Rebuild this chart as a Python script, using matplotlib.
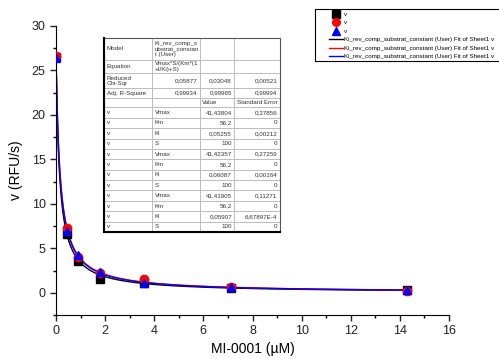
import numpy as np
import matplotlib
matplotlib.use("Agg")
import matplotlib.pyplot as plt
from matplotlib.lines import Line2D
from matplotlib.patches import Rectangle

plt.rcParams['font.family'] = ['Liberation Sans', 'DejaVu Sans']

# ---- data ----
conc = [0.0, 0.45, 0.89, 1.79, 3.57, 7.14, 14.29]
v_black = [26.5, 6.6, 3.6, 1.6, 1.1, 0.55, 0.3]
v_red = [26.6, 7.3, 4.0, 2.2, 1.5, 0.62, 0.25]
v_blue = [26.4, 6.9, 4.25, 2.3, 1.15, 0.6, 0.35]

# fitted parameters (from the table)
vmax = [41.43804, 41.42357, 41.41905]
vmax_se = [0.37856, 0.27259, 0.11271]
km = [56.2, 56.2, 56.2]
ki = [0.05255, 0.06087, 0.05907]
ki_se = ["0,00212", "0,00164", "6,67897E-4"]
s_const = [100, 100, 100]
red_chi = ["0,05877", "0,03048", "0,00521"]
adj_r2 = ["0,99934", "0,99965", "0,99994"]

colors = ['black', 'red', 'blue']
markers = ['s', 'o', '^']
legend_fit = "Ki_rev_comp_substrat_constant (User) Fit of Sheet1 v"

W, H = 499, 359
fig = plt.figure(figsize=(W/100, H/100), dpi=100)
ax = fig.add_axes([56/W, 1-315/H, (449-56)/W, (315-26)/H])

xx = np.linspace(0, max(conc), 400)
for i, c in enumerate(colors):
    yy = vmax[i]*s_const[i]/(km[i]*(1+xx/ki[i])+s_const[i])
    ax.plot(xx, yy, color=c, lw=1.0, zorder=2)

for ys, c, m in zip([v_black, v_red, v_blue], colors, markers):
    ax.plot(conc, ys, linestyle='none', marker=m, color=c, markersize=6, zorder=3)

ax.set_xlim(0, 16)
ax.set_ylim(-2.5, 30)
ax.set_xticks(np.arange(0, 17, 2))
ax.set_xticks(np.arange(0, 17, 1), minor=True)
ax.set_yticks(np.arange(0, 31, 5))
ax.set_yticks(np.arange(-2.5, 30.1, 2.5), minor=True)
ax.spines['top'].set_visible(False)
ax.spines['right'].set_visible(False)
ax.tick_params(which='major', direction='out', length=4, width=1, labelsize=9, colors='#222222')
ax.tick_params(which='minor', direction='out', length=2.5, width=1)
ax.set_xlabel("MI-0001 (µM)", fontsize=10, labelpad=3)
ax.set_ylabel("v (RFU/s)", fontsize=10, labelpad=6)

# ---- table ----
rows = [
    ["Model", "Ki_rev_comp_s\nubstrat_constan\nt (User)", "", ""],
    ["Equation", "Vmax*S/(Km*(1\n+I/Ki)+S)", "", ""],
    ["Reduced\nChi-Sqr"] + red_chi,
    ["Adj. R-Square"] + adj_r2,
    ["", "", "Value", "Standard Error"],
]
for i in range(3):
    rows.append(["v", "Vmax", f"{vmax[i]:.5f}".replace('.', ','), f"{vmax_se[i]:.5f}".replace('.', ',')])
    rows.append(["v", "Km", f"{km[i]:g}".replace('.', ','), "0"])
    rows.append(["v", "Ki", f"{ki[i]:.5f}".replace('.', ','), ki_se[i]])
    rows.append(["v", "S", f"{s_const[i]}", "0"])

heights = [22, 13.5, 15, 9.5, 9.5] + [10.4]*12
colw = [48, 48, 34, 46]
x0, x1, y0, y1 = 104, 280, 38, 232
bbox_ax = ax.transAxes.inverted().transform(
    fig.transFigure.transform([[x0/W, 1-y1/H], [x1/W, 1-y0/H]]))
tb = ax.table(cellText=rows, bbox=[bbox_ax[0,0], bbox_ax[0,1],
              bbox_ax[1,0]-bbox_ax[0,0], bbox_ax[1,1]-bbox_ax[0,1]], zorder=5)
tb.auto_set_font_size(False)
tb.set_fontsize(4.5)
for (r, c), cell in tb.get_celld().items():
    cell.set_height(heights[r])
    cell.set_width(colw[c])
    cell.set_edgecolor('#b8b8b8')
    cell.set_linewidth(0.6)
    cell.set_facecolor('white')
    cell.PAD = 0.06
    txt = cell.get_text()
    txt.set_color('#333333')
    txt.set_linespacing(1.15)
    if (c >= 2 and r != 4) or (c == 1 and r in (2, 3)):
        cell._loc = 'right'
        txt.set_ha('right')
    else:
        cell._loc = 'left'
        txt.set_ha('left')
# outer frame
trans = fig.transFigure
fig.add_artist(Rectangle((x0/W, 1-y1/H), (x1-x0)/W, (y1-y0)/H, fill=False,
                         ec='#555555', lw=0.8, transform=trans, zorder=6))
fig.add_artist(Line2D([x0/W, x0/W], [1-y0/H, 1-y1/H], color='black', lw=1.5, transform=trans, zorder=7))
fig.add_artist(Line2D([x0/W, x1/W], [1-y1/H, 1-y1/H], color='black', lw=1.5, transform=trans, zorder=7))

# ---- legend ----
fig.add_artist(Rectangle((315/W, 1-61/H), 200/W, 52/H, fill=False, ec='black', lw=0.8,
                         transform=trans, zorder=6))
handles = [Line2D([], [], linestyle='none', marker=m, color=c, markersize=5.5) for c, m in zip(colors, markers)]
handles += [Line2D([], [], color=c, lw=1.0) for c in colors]
labels = ["v", "v", "v"] + [legend_fit]*3
leg = fig.legend(handles, labels, loc='upper left', bbox_to_anchor=(329/W, 1-11.5/H),
                 fontsize=4.5, frameon=False, handlelength=2.2,
                 handletextpad=0.2, labelspacing=0.5, borderpad=0, borderaxespad=0)

fig.savefig("out.png", dpi=100)
